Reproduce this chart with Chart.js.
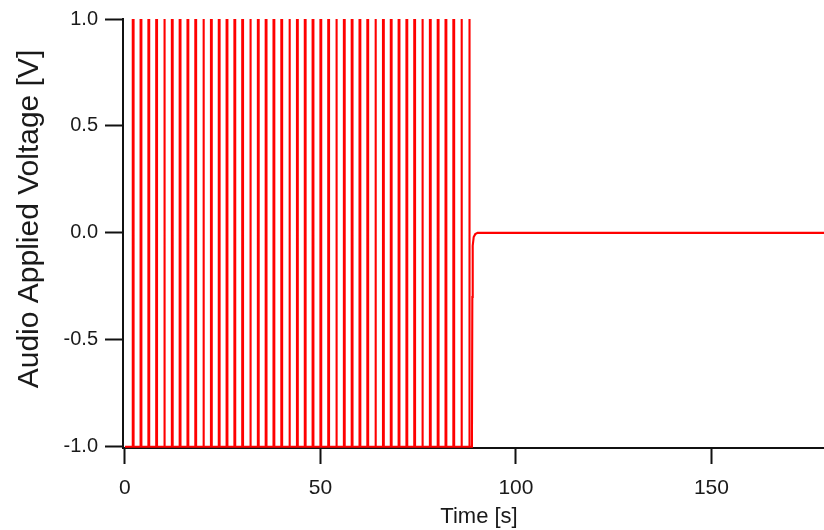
<!DOCTYPE html>
<html lang="en">
<head>
  <meta charset="UTF-8">
  <title>Audio Applied Voltage</title>
  <script src="https://cdn.jsdelivr.net/npm/chart.js"></script>
  <style>
    body { margin: 0; background: #fff; }
    #wrap { width: 824px; height: 530px; }
  </style>
</head>
<body>
  <div id="wrap"><canvas id="voltChart"></canvas></div>

  <script>
    // pulse train: one narrow pulse from -1 V to +1 V every 2 s
    const pulseTimes = [2, 4, 6, 8, 10, 12, 14, 16, 18, 20, 22, 24, 26, 28, 30, 32, 34, 36, 38, 40, 42, 44,
                        46, 48, 50, 52, 54, 56, 58, 60, 62, 64, 66, 68, 70, 72, 74, 76, 78, 80, 82, 84, 86, 88];
    const pulseWidth = 0.2;   // seconds
    const lowLevel = -1.0;
    const highLevel = 1.0;

    // after the last pulse the signal relaxes to 0 V
    const tailTimes  = [88.75, 88.85, 88.95, 89.2, 89.6, 90.2, 178.8];
    const tailValues = [-1.0, -0.3, -0.06, -0.02, -0.006, 0.0, 0.0];

    const xTicks = [0, 50, 100, 150];
    const yTicks = [-1.0, -0.5, 0.0, 0.5, 1.0];

    const xTitle = 'Time [s]';
    const yTitle = 'Audio Applied Voltage [V]';

    // build the point list from the arrays above
    const points = [{ x: 0, y: lowLevel }];
    pulseTimes.forEach(t => {
      points.push({ x: t, y: lowLevel });
      points.push({ x: t, y: highLevel });
      points.push({ x: t + pulseWidth, y: highLevel });
      points.push({ x: t + pulseWidth, y: lowLevel });
    });
    tailTimes.forEach((t, i) => points.push({ x: t, y: tailValues[i] }));

    const axisColor = '#111';
    const textColor = '#1a1a1a';
    const fontFamily = '"Liberation Sans", Arial, sans-serif';

    // axis titles drawn by hand so they sit where the original has them
    const axisTitles = {
      id: 'axisTitles',
      afterDraw(chart) {
        const c = chart.ctx;
        c.save();
        c.fillStyle = textColor;
        c.textAlign = 'center';
        c.textBaseline = 'middle';
        c.font = '22px ' + fontFamily;
        c.fillText(xTitle, 479, 517);
        c.translate(30, 219);
        c.rotate(-Math.PI / 2);
        c.font = '30px ' + fontFamily;
        c.fillText(yTitle, 0, 0);
        c.restore();
      }
    };

    const ctx = document.getElementById('voltChart').getContext('2d');
    new Chart(ctx, {
      type: 'line',
      data: {
        datasets: [{
          data: points,
          borderColor: '#ff0000',
          borderWidth: 2.1,
          pointRadius: 0,
          tension: 0,
          fill: false
        }]
      },
      options: {
        responsive: true,
        maintainAspectRatio: false,
        animation: false,
        parsing: false,
        layout: { padding: { left: 0, right: 0, top: 18, bottom: 0 } },
        plugins: { legend: { display: false }, tooltip: { enabled: false } },
        scales: {
          x: {
            type: 'linear',
            min: -0.5,
            max: 178.8,
            afterBuildTicks: axis => { axis.ticks = xTicks.map(v => ({ value: v })); },
            afterFit: axis => { axis.height = 82; },
            border: { display: true, color: axisColor, width: 2 },
            grid: { drawOnChartArea: false, drawTicks: true, tickLength: 16, tickWidth: 2, tickColor: axisColor },
            ticks: {
              padding: 12,
              maxRotation: 0,
              color: textColor,
              font: { family: fontFamily, size: 21 }
            }
          },
          y: {
            min: -1.006,
            max: 1.0,
            afterBuildTicks: axis => { axis.ticks = yTicks.map(v => ({ value: v })); },
            afterFit: axis => { axis.width = 123; },
            border: { display: true, color: axisColor, width: 2 },
            grid: { drawOnChartArea: false, drawTicks: true, tickLength: 18, tickWidth: 2, tickColor: axisColor },
            ticks: {
              padding: 7,
              color: textColor,
              font: { family: fontFamily, size: 20 },
              callback: v => v.toFixed(1)
            }
          }
        }
      },
      plugins: [axisTitles]
    });
  </script>
</body>
</html>
